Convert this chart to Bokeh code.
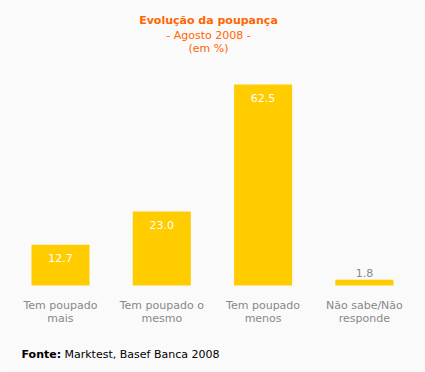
from bokeh.plotting import figure
from bokeh.models import ColumnDataSource, Range1d, Label
from bokeh.core.properties import value
from bokeh.embed import file_html
from bokeh.resources import INLINE

# ---- data ----
categories = ["Tem poupado\nmais", "Tem poupado o\nmesmo", "Tem poupado\nmenos", "Não sabe/Não\nresponde"]
values = [12.7, 23.0, 62.5, 1.8]
value_labels = ["12.7", "23.0", "62.5", "1.8"]
title_lines = ["Evolução da poupança", "- Agosto 2008 -", "(em %)"]
source_bold = "Fonte:"
source_text = "Marktest, Basef Banca 2008"

FONT = "DejaVu Sans"
BAR = "#FFCC00"
ORANGE = "#FF6600"
GREY = "#888888"
BG = "#FAFAFA"

W, H = 425, 372
xs = list(range(len(values)))

p = figure(width=W, height=H, output_backend="svg", toolbar_location=None,
           x_range=Range1d(-0.592, 3.603), y_range=Range1d(-27.05, 88.62),
           min_border=0, min_border_left=0, min_border_right=0,
           min_border_top=0, min_border_bottom=0)
p.xaxis.visible = False
p.yaxis.visible = False
p.grid.visible = False
p.outline_line_color = None
p.background_fill_color = BG
p.border_fill_color = BG

src = ColumnDataSource(dict(x=xs, top=values, lab=value_labels,
                            line1=[c.split("\n")[0] for c in categories],
                            line2=[c.split("\n")[1] for c in categories]))
p.vbar(x="x", top="top", bottom=0, width=0.573, source=src,
       fill_color=BAR, line_color=None)

# value labels: inside bars (white) except the small one (grey, above)
inside = [i for i, v in enumerate(values) if v > 5]
outside = [i for i, v in enumerate(values) if v <= 5]
src_in = ColumnDataSource(dict(x=[xs[i] for i in inside], y=[values[i] for i in inside],
                               t=[value_labels[i] for i in inside]))
src_out = ColumnDataSource(dict(x=[xs[i] for i in outside], y=[values[i] for i in outside],
                                t=[value_labels[i] for i in outside]))
p.text(x="x", y="y", text="t", source=src_in, text_color="white",
       text_font=value(FONT), text_font_size="11px", text_align="center",
       text_baseline="middle", y_offset=13)
p.text(x="x", y="y", text="t", source=src_out, text_color=GREY,
       text_font=value(FONT), text_font_size="11px", text_align="center",
       text_baseline="middle", y_offset=-7)

# category labels
p.text(x="x", y=0, text="line1", source=src, text_color=GREY,
       text_font=value(FONT), text_font_size="11px", text_align="center",
       text_baseline="middle", y_offset=20)
p.text(x="x", y=0, text="line2", source=src, text_color=GREY,
       text_font=value(FONT), text_font_size="11px", text_align="center",
       text_baseline="middle", y_offset=33)

# title
title_y = [352, 337, 324]
for i, t in enumerate(title_lines):
    p.add_layout(Label(x=208, y=title_y[i], x_units="screen", y_units="screen", text=t,
                       text_color=ORANGE, text_font=FONT, text_font_size="11px",
                       text_font_style="bold" if i == 0 else "normal",
                       text_align="center", text_baseline="middle"))

# source
p.add_layout(Label(x=21, y=18, x_units="screen", y_units="screen", text=source_bold,
                   text_color="black", text_font=FONT, text_font_size="11px",
                   text_font_style="bold", text_align="left", text_baseline="middle"))
p.add_layout(Label(x=64, y=18, x_units="screen", y_units="screen", text=source_text,
                   text_color="black", text_font=FONT, text_font_size="11px",
                   text_align="left", text_baseline="middle"))

open("out.html", "w").write(file_html(p, INLINE))
